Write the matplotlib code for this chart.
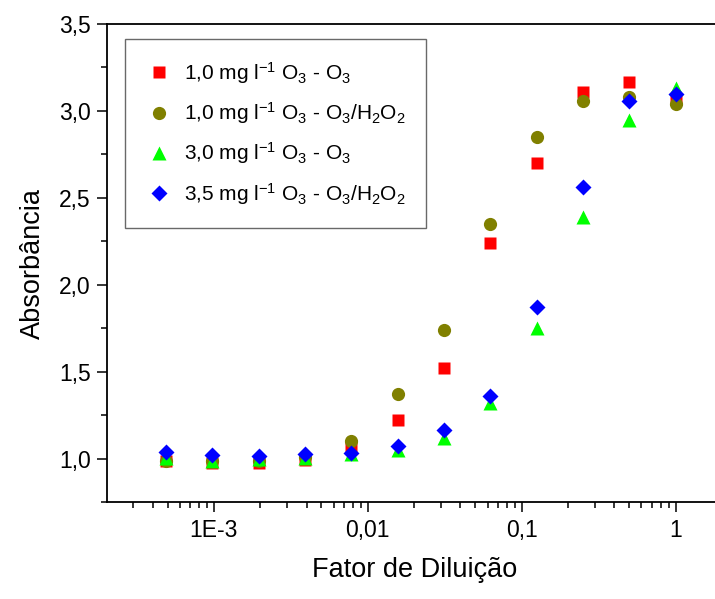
import matplotlib
matplotlib.use('Agg')
import matplotlib.pyplot as plt
from matplotlib.ticker import LogLocator, FixedLocator, MultipleLocator, NullFormatter

plt.rcParams['font.family'] = ['Liberation Sans', 'DejaVu Sans']
plt.rcParams['mathtext.default'] = 'regular'

# fator de diluição: 1/2^n
diluicao = [1 / 2 ** n for n in range(12)]

# absorbância (de 1 até 1/2048)
abs_1_o3 = [3.07, 3.165, 3.11, 2.70, 2.24, 1.525, 1.225, 1.065, 0.995, 0.975, 0.975, 0.99]
abs_1_h2o2 = [3.04, 3.08, 3.055, 2.85, 2.348, 1.741, 1.37, 1.105, 1.01, 0.99, 0.985, 0.99]
abs_3_o3 = [3.13, 2.95, 2.39, 1.755, 1.32, 1.12, 1.05, 1.03, 1.007, 1.0, 0.99, 1.006]
abs_35_h2o2 = [3.10, 3.057, 2.565, 1.874, 1.364, 1.163, 1.072, 1.036, 1.027, 1.017, 1.023, 1.039]

rotulos = [
    r'1,0 mg l$^{-1}$ O$_3$ - O$_3$',
    r'1,0 mg l$^{-1}$ O$_3$ - O$_3$/H$_2$O$_2$',
    r'3,0 mg l$^{-1}$ O$_3$ - O$_3$',
    r'3,5 mg l$^{-1}$ O$_3$ - O$_3$/H$_2$O$_2$',
]

fig = plt.figure(figsize=(7.15, 5.99), dpi=100)
ax = fig.add_axes([0.150, 0.1614, 0.8597, 0.7986])

ax.plot(diluicao, abs_1_o3, 's', color='#FF0000', ms=8, mec='none', label=rotulos[0], zorder=3)
ax.plot(diluicao, abs_1_h2o2, 'o', color='#808000', ms=9.5, mec='none', label=rotulos[1], zorder=3)
ax.plot(diluicao, abs_3_o3, '^', color='#00FF00', ms=10.5, mec='none', label=rotulos[2], zorder=3)
ax.plot(diluicao, abs_35_h2o2, 'D', color='#0000FF', ms=8.5, mec='none', label=rotulos[3], zorder=3)

ax.set_xscale('log')
ax.set_xlim(2.03e-4, 2.0)
ax.set_ylim(0.75, 3.5)

ax.xaxis.set_major_locator(FixedLocator([1e-3, 1e-2, 1e-1, 1]))
ax.set_xticklabels(['1E-3', '0,01', '0,1', '1'])
ax.xaxis.set_minor_locator(LogLocator(base=10, subs=range(2, 10), numticks=20))
ax.xaxis.set_minor_formatter(NullFormatter())

ax.yaxis.set_major_locator(FixedLocator([1.0, 1.5, 2.0, 2.5, 3.0, 3.5]))
ax.set_yticklabels(['1,0', '1,5', '2,0', '2,5', '3,0', '3,5'])
ax.yaxis.set_minor_locator(MultipleLocator(0.25))

ax.tick_params(which='major', direction='out', length=7, width=1.1, labelsize=16.5, pad=5)
ax.tick_params(which='minor', direction='out', length=4, width=1.1)
for s in ax.spines.values():
    s.set_linewidth(1.3)

ax.set_xlabel('Fator de Diluição', fontsize=19.5, labelpad=11)
ax.set_ylabel('Absorbância', fontsize=19.5, labelpad=9)

leg = ax.legend(loc='upper left', bbox_to_anchor=(0.0295, 0.969), fontsize=15,
                frameon=True, fancybox=False, edgecolor='#444444', handletextpad=0.6,
                labelspacing=0.7, borderpad=1.0, handlelength=1.2, borderaxespad=0)
leg.get_frame().set_linewidth(1.0)

fig.savefig('out.png', dpi=100)
